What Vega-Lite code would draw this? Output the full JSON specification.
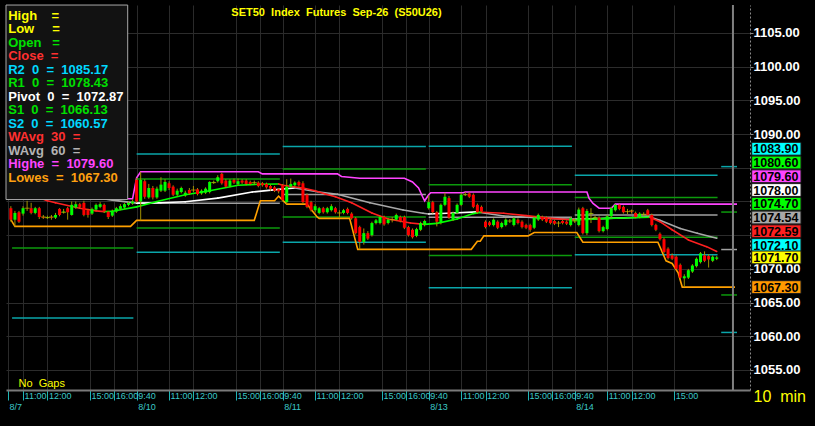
{
"$schema": "https://vega.github.io/schema/vega-lite/v6.json",
"autosize": {"type": "none"},
"padding": {"left": 6, "top": 5, "right": 65, "bottom": 36},
"width": 744,
"height": 385,
"background": "#000000",
"title": {"text": "SET50\u00a0\u00a0Index\u00a0\u00a0Futures\u00a0\u00a0Sep-26\u00a0\u00a0(S50U26)", "color": "#ffff00", "font": "Liberation Sans", "fontSize": 11, "fontWeight": "bold", "anchor": "middle", "frame": "group", "offset": -14, "dx": -41.5},
"config": {"view": {"stroke": null, "fill": "#000000"}, "font": "Liberation Sans"},
"datasets": {
"candles": [
{"g":5,"o":1079.0,"h":1079.3,"l":1077.0,"c":1077.3},
{"g":6,"o":1077.3,"h":1078.6,"l":1076.3,"c":1078.3},
{"g":7,"o":1078.4,"h":1078.6,"l":1076.8,"c":1077.0},
{"g":8,"o":1078.2,"h":1079.3,"l":1077.9,"c":1079.0},
{"g":9,"o":1079.0,"h":1080.1,"l":1078.6,"c":1079.0},
{"g":10,"o":1079.0,"h":1079.8,"l":1078.1,"c":1078.3},
{"g":11,"o":1078.3,"h":1079.2,"l":1078.1,"c":1079.0},
{"g":12,"o":1079.0,"h":1079.2,"l":1077.4,"c":1077.7},
{"g":13,"o":1077.7,"h":1078.0,"l":1077.4,"c":1077.6},
{"g":14,"o":1077.6,"h":1077.9,"l":1077.4,"c":1077.7},
{"g":15,"o":1077.7,"h":1078.0,"l":1077.3,"c":1077.6},
{"g":16,"o":1077.6,"h":1078.3,"l":1077.4,"c":1078.0},
{"g":17,"o":1078.9,"h":1079.0,"l":1077.8,"c":1078.0},
{"g":18,"o":1078.4,"h":1078.9,"l":1078.2,"c":1078.5},
{"g":19,"o":1079.0,"h":1079.2,"l":1077.3,"c":1078.4},
{"g":20,"o":1078.0,"h":1080.0,"l":1077.9,"c":1079.5},
{"g":21,"o":1079.1,"h":1080.0,"l":1078.9,"c":1079.6},
{"g":22,"o":1079.6,"h":1079.8,"l":1079.0,"c":1079.2},
{"g":23,"o":1079.8,"h":1080.1,"l":1077.8,"c":1078.0},
{"g":24,"o":1078.7,"h":1078.9,"l":1077.6,"c":1078.0},
{"g":25,"o":1078.2,"h":1079.1,"l":1078.0,"c":1078.9},
{"g":26,"o":1078.8,"h":1079.7,"l":1078.6,"c":1079.5},
{"g":27,"o":1079.2,"h":1079.9,"l":1079.0,"c":1079.6},
{"g":28,"o":1079.5,"h":1079.7,"l":1078.3,"c":1078.5},
{"g":29,"o":1078.5,"h":1078.6,"l":1077.4,"c":1077.7},
{"g":30,"o":1077.9,"h":1078.8,"l":1077.7,"c":1078.6},
{"g":31,"o":1078.5,"h":1079.2,"l":1078.3,"c":1079.0},
{"g":32,"o":1078.9,"h":1079.6,"l":1078.7,"c":1079.3},
{"g":33,"o":1079.1,"h":1079.8,"l":1078.9,"c":1079.6},
{"g":34,"o":1079.5,"h":1080.0,"l":1079.3,"c":1079.8},
{"g":35,"o":1079.7,"h":1080.3,"l":1079.5,"c":1080.0},
{"g":36,"o":1083.2,"h":1083.5,"l":1079.8,"c":1080.0},
{"g":37,"o":1080.0,"h":1084.4,"l":1077.2,"c":1083.2},
{"g":38,"o":1083.0,"h":1083.3,"l":1080.4,"c":1080.7},
{"g":39,"o":1080.6,"h":1082.6,"l":1080.4,"c":1082.0},
{"g":40,"o":1082.0,"h":1082.3,"l":1080.3,"c":1080.6},
{"g":41,"o":1080.6,"h":1082.2,"l":1080.4,"c":1081.9},
{"g":42,"o":1081.6,"h":1083.6,"l":1081.4,"c":1082.5},
{"g":43,"o":1081.6,"h":1083.3,"l":1081.4,"c":1082.9},
{"g":44,"o":1082.7,"h":1083.0,"l":1081.7,"c":1082.0},
{"g":45,"o":1082.2,"h":1082.4,"l":1080.8,"c":1081.0},
{"g":46,"o":1081.0,"h":1081.9,"l":1080.8,"c":1081.6},
{"g":47,"o":1081.4,"h":1082.2,"l":1081.2,"c":1082.0},
{"g":48,"o":1080.9,"h":1081.6,"l":1080.7,"c":1081.3},
{"g":49,"o":1081.7,"h":1082.0,"l":1081.0,"c":1081.2},
{"g":50,"o":1081.7,"h":1082.3,"l":1081.4,"c":1081.7},
{"g":51,"o":1081.8,"h":1082.0,"l":1080.9,"c":1081.1},
{"g":52,"o":1081.2,"h":1081.8,"l":1081.0,"c":1081.6},
{"g":53,"o":1081.3,"h":1082.1,"l":1081.1,"c":1081.9},
{"g":54,"o":1081.4,"h":1083.0,"l":1081.2,"c":1082.9},
{"g":55,"o":1082.8,"h":1083.1,"l":1082.6,"c":1082.9},
{"g":56,"o":1083.0,"h":1083.9,"l":1082.8,"c":1083.6},
{"g":57,"o":1084.1,"h":1084.3,"l":1082.5,"c":1082.7},
{"g":58,"o":1083.1,"h":1083.3,"l":1082.0,"c":1082.2},
{"g":59,"o":1082.3,"h":1083.3,"l":1082.1,"c":1083.1},
{"g":60,"o":1083.2,"h":1083.4,"l":1082.6,"c":1082.8},
{"g":61,"o":1082.6,"h":1083.4,"l":1082.4,"c":1083.0},
{"g":62,"o":1083.1,"h":1083.3,"l":1082.6,"c":1082.8},
{"g":63,"o":1083.1,"h":1083.3,"l":1082.4,"c":1082.6},
{"g":64,"o":1082.9,"h":1083.1,"l":1082.4,"c":1082.6},
{"g":65,"o":1082.8,"h":1083.1,"l":1082.5,"c":1082.8},
{"g":66,"o":1082.8,"h":1083.0,"l":1082.1,"c":1082.3},
{"g":67,"o":1082.7,"h":1082.9,"l":1082.2,"c":1082.4},
{"g":68,"o":1082.6,"h":1082.8,"l":1081.9,"c":1082.1},
{"g":69,"o":1082.3,"h":1082.5,"l":1081.6,"c":1081.9},
{"g":70,"o":1082.1,"h":1082.3,"l":1081.4,"c":1081.6},
{"g":71,"o":1081.8,"h":1082.0,"l":1081.2,"c":1081.5},
{"g":72,"o":1082.4,"h":1082.6,"l":1080.0,"c":1080.2},
{"g":73,"o":1079.9,"h":1083.3,"l":1079.6,"c":1082.2},
{"g":74,"o":1082.2,"h":1083.4,"l":1082.0,"c":1082.6},
{"g":75,"o":1082.4,"h":1083.0,"l":1082.2,"c":1082.8},
{"g":76,"o":1082.9,"h":1083.1,"l":1082.2,"c":1082.4},
{"g":77,"o":1082.7,"h":1083.0,"l":1079.7,"c":1079.9},
{"g":78,"o":1081.0,"h":1081.2,"l":1079.0,"c":1079.2},
{"g":79,"o":1079.9,"h":1080.1,"l":1078.5,"c":1078.7},
{"g":80,"o":1078.7,"h":1079.6,"l":1078.4,"c":1079.3},
{"g":81,"o":1078.3,"h":1079.2,"l":1078.1,"c":1079.0},
{"g":82,"o":1079.0,"h":1079.2,"l":1078.2,"c":1078.4},
{"g":83,"o":1078.4,"h":1079.2,"l":1078.2,"c":1079.0},
{"g":84,"o":1078.7,"h":1079.6,"l":1078.5,"c":1079.3},
{"g":85,"o":1079.0,"h":1079.2,"l":1078.2,"c":1078.4},
{"g":86,"o":1078.3,"h":1078.7,"l":1077.6,"c":1078.3},
{"g":87,"o":1078.3,"h":1078.9,"l":1078.1,"c":1078.7},
{"g":88,"o":1078.9,"h":1079.1,"l":1078.1,"c":1078.3},
{"g":89,"o":1078.2,"h":1078.4,"l":1077.3,"c":1077.5},
{"g":90,"o":1077.5,"h":1077.7,"l":1075.1,"c":1075.3},
{"g":91,"o":1076.2,"h":1076.4,"l":1072.9,"c":1074.0},
{"g":92,"o":1074.0,"h":1076.0,"l":1073.6,"c":1075.3},
{"g":93,"o":1075.3,"h":1075.6,"l":1074.3,"c":1074.5},
{"g":94,"o":1075.0,"h":1077.0,"l":1074.8,"c":1076.8},
{"g":95,"o":1076.8,"h":1077.4,"l":1076.6,"c":1077.2},
{"g":96,"o":1076.8,"h":1077.9,"l":1076.6,"c":1077.7},
{"g":97,"o":1077.7,"h":1077.9,"l":1076.4,"c":1076.6},
{"g":98,"o":1076.8,"h":1077.5,"l":1076.6,"c":1077.3},
{"g":99,"o":1077.3,"h":1077.7,"l":1076.9,"c":1077.3},
{"g":100,"o":1077.3,"h":1078.2,"l":1077.1,"c":1078.0},
{"g":101,"o":1077.7,"h":1077.9,"l":1076.9,"c":1077.1},
{"g":102,"o":1077.7,"h":1077.9,"l":1075.9,"c":1076.1},
{"g":103,"o":1076.2,"h":1076.4,"l":1074.8,"c":1075.0},
{"g":104,"o":1075.8,"h":1076.0,"l":1074.5,"c":1074.7},
{"g":105,"o":1074.9,"h":1076.1,"l":1074.7,"c":1075.9},
{"g":106,"o":1075.8,"h":1077.0,"l":1075.6,"c":1076.8},
{"g":107,"o":1076.5,"h":1077.3,"l":1076.3,"c":1077.1},
{"g":108,"o":1079.0,"h":1080.9,"l":1078.8,"c":1079.9},
{"g":109,"o":1079.9,"h":1080.1,"l":1078.2,"c":1078.4},
{"g":110,"o":1078.4,"h":1078.6,"l":1076.3,"c":1077.0},
{"g":111,"o":1076.8,"h":1079.7,"l":1076.6,"c":1079.5},
{"g":112,"o":1079.5,"h":1081.3,"l":1079.3,"c":1080.7},
{"g":113,"o":1080.5,"h":1080.8,"l":1077.4,"c":1077.6},
{"g":114,"o":1077.3,"h":1078.5,"l":1077.1,"c":1078.3},
{"g":115,"o":1078.3,"h":1079.7,"l":1078.1,"c":1079.5},
{"g":116,"o":1079.5,"h":1081.3,"l":1079.3,"c":1081.0},
{"g":117,"o":1081.0,"h":1081.4,"l":1080.8,"c":1081.1},
{"g":118,"o":1081.2,"h":1081.4,"l":1080.5,"c":1080.7},
{"g":119,"o":1081.0,"h":1081.2,"l":1079.0,"c":1079.2},
{"g":120,"o":1079.5,"h":1079.7,"l":1078.2,"c":1078.4},
{"g":121,"o":1079.2,"h":1079.4,"l":1078.3,"c":1078.5},
{"g":122,"o":1077.0,"h":1077.2,"l":1076.0,"c":1076.2},
{"g":123,"o":1076.9,"h":1077.1,"l":1076.3,"c":1076.5},
{"g":124,"o":1076.5,"h":1077.5,"l":1076.3,"c":1077.3},
{"g":125,"o":1077.0,"h":1077.2,"l":1075.9,"c":1076.1},
{"g":126,"o":1076.2,"h":1077.0,"l":1076.0,"c":1076.8},
{"g":127,"o":1076.5,"h":1077.5,"l":1076.3,"c":1077.3},
{"g":128,"o":1077.1,"h":1077.4,"l":1076.8,"c":1077.1},
{"g":129,"o":1076.5,"h":1077.7,"l":1076.3,"c":1077.5},
{"g":130,"o":1077.3,"h":1077.5,"l":1076.6,"c":1076.8},
{"g":131,"o":1077.0,"h":1077.2,"l":1076.0,"c":1076.2},
{"g":132,"o":1076.5,"h":1076.7,"l":1075.9,"c":1076.1},
{"g":133,"o":1076.5,"h":1076.7,"l":1075.5,"c":1075.8},
{"g":134,"o":1076.1,"h":1077.8,"l":1075.9,"c":1077.6},
{"g":135,"o":1077.3,"h":1078.2,"l":1077.1,"c":1078.0},
{"g":136,"o":1077.7,"h":1077.9,"l":1077.1,"c":1077.3},
{"g":137,"o":1077.6,"h":1077.8,"l":1076.8,"c":1077.0},
{"g":138,"o":1077.3,"h":1077.5,"l":1076.6,"c":1076.8},
{"g":139,"o":1077.1,"h":1077.3,"l":1076.5,"c":1076.7},
{"g":140,"o":1076.8,"h":1077.1,"l":1076.2,"c":1076.8},
{"g":141,"o":1077.1,"h":1077.3,"l":1076.6,"c":1076.8},
{"g":142,"o":1077.0,"h":1077.2,"l":1076.5,"c":1076.7},
{"g":143,"o":1076.5,"h":1077.7,"l":1076.3,"c":1077.5},
{"g":144,"o":1077.1,"h":1077.5,"l":1076.8,"c":1077.2},
{"g":145,"o":1076.5,"h":1079.1,"l":1076.3,"c":1078.8},
{"g":146,"o":1079.0,"h":1079.2,"l":1075.1,"c":1075.3},
{"g":147,"o":1075.3,"h":1078.9,"l":1075.0,"c":1078.6},
{"g":148,"o":1078.2,"h":1079.0,"l":1076.8,"c":1078.3},
{"g":149,"o":1077.6,"h":1077.9,"l":1077.4,"c":1077.7},
{"g":150,"o":1077.6,"h":1077.8,"l":1075.4,"c":1075.6},
{"g":151,"o":1075.6,"h":1076.4,"l":1075.4,"c":1076.2},
{"g":152,"o":1075.9,"h":1078.0,"l":1075.7,"c":1077.8},
{"g":153,"o":1077.8,"h":1079.2,"l":1077.6,"c":1079.0},
{"g":154,"o":1078.7,"h":1079.6,"l":1078.5,"c":1079.5},
{"g":155,"o":1079.5,"h":1079.6,"l":1078.7,"c":1078.9},
{"g":156,"o":1079.2,"h":1079.4,"l":1078.2,"c":1078.4},
{"g":157,"o":1078.5,"h":1078.9,"l":1078.1,"c":1078.5},
{"g":158,"o":1078.6,"h":1078.8,"l":1078.2,"c":1078.5},
{"g":159,"o":1078.3,"h":1078.5,"l":1077.5,"c":1077.7},
{"g":160,"o":1077.7,"h":1078.4,"l":1077.5,"c":1078.2},
{"g":161,"o":1078.1,"h":1078.4,"l":1077.8,"c":1078.1},
{"g":162,"o":1078.7,"h":1078.9,"l":1077.8,"c":1078.0},
{"g":163,"o":1078.0,"h":1078.2,"l":1076.3,"c":1076.5},
{"g":164,"o":1076.5,"h":1076.7,"l":1075.6,"c":1075.8},
{"g":165,"o":1075.2,"h":1075.4,"l":1074.2,"c":1074.4},
{"g":166,"o":1074.4,"h":1074.6,"l":1072.3,"c":1072.5},
{"g":167,"o":1073.0,"h":1073.2,"l":1071.4,"c":1071.6},
{"g":168,"o":1072.0,"h":1072.3,"l":1071.3,"c":1071.5},
{"g":169,"o":1071.8,"h":1072.0,"l":1069.8,"c":1070.0},
{"g":170,"o":1070.6,"h":1070.8,"l":1068.5,"c":1068.7},
{"g":171,"o":1068.6,"h":1069.2,"l":1067.3,"c":1068.9},
{"g":172,"o":1068.7,"h":1070.0,"l":1068.5,"c":1069.8},
{"g":173,"o":1069.6,"h":1070.7,"l":1069.4,"c":1070.5},
{"g":174,"o":1070.4,"h":1071.7,"l":1070.2,"c":1071.5},
{"g":175,"o":1071.0,"h":1072.5,"l":1070.8,"c":1072.3},
{"g":176,"o":1072.0,"h":1072.6,"l":1071.0,"c":1071.2},
{"g":177,"o":1071.9,"h":1072.2,"l":1070.2,"c":1071.4},
{"g":178,"o":1071.2,"h":1072.0,"l":1071.0,"c":1071.8},
{"g":179,"o":1071.5,"h":1071.9,"l":1071.3,"c":1071.7}
],
"w30": [
{"g":5,"v":1082.0},{"g":10,"v":1081.0},{"g":14,"v":1080.1},{"g":16,"v":1079.8},{"g":22,"v":1079.0},{"g":26,"v":1078.6},{"g":28,"v":1078.5},{"g":30,"v":1078.55},{"g":36,"v":1079.2},{"g":41,"v":1080.0},{"g":48,"v":1081.0},{"g":54,"v":1081.6},{"g":61,"v":1082.4},{"g":66,"v":1082.55},{"g":71,"v":1082.6},{"g":72,"v":1082.4},{"g":77,"v":1082.0},{"g":80,"v":1081.6},{"g":82.5,"v":1081.1},{"g":85,"v":1080.7},{"g":89,"v":1079.8},{"g":94,"v":1078.3},{"g":98,"v":1077.4},{"g":103.5,"v":1076.8},{"g":107,"v":1076.6},{"g":110,"v":1076.75},{"g":115,"v":1077.4},{"g":119,"v":1078.2},{"g":121,"v":1078.4},{"g":126.5,"v":1078.25},{"g":132,"v":1077.9},{"g":138,"v":1077.5},{"g":143,"v":1077.3},{"g":144,"v":1077.25},{"g":152,"v":1077.5},{"g":162.5,"v":1077.65},{"g":165,"v":1077.0},{"g":168,"v":1075.8},{"g":172,"v":1074.3},{"g":176.5,"v":1073.3},{"g":179,"v":1072.59}
],
"w60": [
{"g":5,"v":1082.8},{"g":20,"v":1081.2},{"g":30,"v":1080.2},{"g":36,"v":1079.75},{"g":42,"v":1079.8},{"g":48,"v":1079.95},{"g":56,"v":1080.5},{"g":64.5,"v":1081.4},{"g":71,"v":1081.8},{"g":75,"v":1082.0},{"g":80.5,"v":1081.45},{"g":85.5,"v":1081.07},{"g":93.5,"v":1079.8},{"g":101.7,"v":1078.74},{"g":106.6,"v":1078.25},{"g":108,"v":1078.15},{"g":114,"v":1078.3},{"g":119.9,"v":1078.45},{"g":126.5,"v":1077.85},{"g":138,"v":1077.5},{"g":143,"v":1077.35},{"g":147,"v":1077.4},{"g":152,"v":1077.5},{"g":160,"v":1077.65},{"g":162.5,"v":1077.7},{"g":165,"v":1077.2},{"g":170,"v":1076.0},{"g":174.2,"v":1075.3},{"g":179,"v":1074.54}
],
"highe": [
{"g":5,"v":1080.4},{"g":35,"v":1080.4},{"g":36,"v":1083.5},{"g":37,"v":1084.4},{"g":66,"v":1084.4},{"g":67,"v":1084.1},{"g":85.5,"v":1084.1},{"g":86.5,"v":1083.7},{"g":91,"v":1083.45},{"g":102,"v":1083.45},{"g":104,"v":1082.9},{"g":105.5,"v":1082.0},{"g":106.5,"v":1080.7},{"g":107,"v":1080.1},{"g":108,"v":1081.0},{"g":108.5,"v":1081.3},{"g":116.5,"v":1081.3},{"g":117,"v":1081.4},{"g":147,"v":1081.4},{"g":147.5,"v":1080.5},{"g":148.5,"v":1079.7},{"g":150,"v":1079.0},{"g":153,"v":1079.0},{"g":154,"v":1079.6},{"g":184,"v":1079.6}
],
"lowes": [
{"g":5,"v":1077.3},{"g":6,"v":1076.3},{"g":34.5,"v":1076.3},{"g":36,"v":1077.2},{"g":65,"v":1077.2},{"g":66.5,"v":1080.1},{"g":70,"v":1080.1},{"g":71,"v":1080.8},{"g":73,"v":1079.6},{"g":78,"v":1079.6},{"g":80.5,"v":1077.7},{"g":81,"v":1077.5},{"g":88.5,"v":1077.5},{"g":90.5,"v":1072.9},{"g":118.5,"v":1072.9},{"g":120,"v":1074.1},{"g":120.7,"v":1074.1},{"g":121.6,"v":1074.9},{"g":132.5,"v":1074.9},{"g":134,"v":1075.4},{"g":144.5,"v":1075.4},{"g":146,"v":1073.95},{"g":164.5,"v":1073.95},{"g":166.5,"v":1071.2},{"g":168,"v":1070.8},{"g":169.5,"v":1069.4},{"g":170.5,"v":1067.3},{"g":183.5,"v":1067.3}
],
"pivots": [
{"day":"8/7","lvl":"S1","v":1073.1,"g0":5.3,"g1":35.2},
{"day":"8/7","lvl":"S2","v":1062.7,"g0":5.3,"g1":35.2},
{"day":"8/10","lvl":"R2","v":1087.05,"g0":36,"g1":71.3},
{"day":"8/10","lvl":"R1","v":1083.35,"g0":36,"g1":71.3},
{"day":"8/10","lvl":"P","v":1079.75,"g0":36,"g1":71.3},
{"day":"8/10","lvl":"S1","v":1076.05,"g0":36,"g1":71.3},
{"day":"8/10","lvl":"S2","v":1072.45,"g0":36,"g1":71.3},
{"day":"8/11","lvl":"R2","v":1088.15,"g0":72,"g1":107.3},
{"day":"8/11","lvl":"R1","v":1084.8,"g0":72,"g1":107.3},
{"day":"8/11","lvl":"P","v":1081.05,"g0":72,"g1":107.3},
{"day":"8/11","lvl":"S1","v":1077.7,"g0":72,"g1":107.3},
{"day":"8/11","lvl":"S2","v":1073.95,"g0":72,"g1":107.3},
{"day":"8/13","lvl":"R2","v":1088.2,"g0":108,"g1":143.3},
{"day":"8/13","lvl":"R1","v":1082.5,"g0":108,"g1":143.3},
{"day":"8/13","lvl":"P","v":1077.65,"g0":108,"g1":143.3},
{"day":"8/13","lvl":"S1","v":1072.0,"g0":108,"g1":143.3},
{"day":"8/13","lvl":"S2","v":1067.2,"g0":108,"g1":143.3},
{"day":"8/14","lvl":"R2","v":1083.9,"g0":144,"g1":179.2},
{"day":"8/14","lvl":"R1","v":1080.6,"g0":144,"g1":179.2},
{"day":"8/14","lvl":"P","v":1078.0,"g0":144,"g1":179.2},
{"day":"8/14","lvl":"S1","v":1074.7,"g0":144,"g1":179.2},
{"day":"8/14","lvl":"S2","v":1072.1,"g0":144,"g1":179.2},
{"day":"next","lvl":"R2","v":1085.17,"g0":180.1,"g1":184},
{"day":"next","lvl":"R1","v":1078.43,"g0":180.1,"g1":184},
{"day":"next","lvl":"P","v":1072.87,"g0":180.1,"g1":184},
{"day":"next","lvl":"S1","v":1066.13,"g0":180.1,"g1":184},
{"day":"next","lvl":"S2","v":1060.57,"g0":180.1,"g1":184}
],
"last": [
{"k":"R2","v":1083.90},{"k":"R1","v":1080.60},{"k":"Highe","v":1079.60},{"k":"P","v":1078.00},{"k":"S1","v":1074.70},{"k":"W60","v":1074.54},{"k":"W30","v":1072.59},{"k":"S2","v":1072.10},{"k":"Last","v":1071.70},{"k":"Lowes","v":1067.30}
],
"legend": [
{"row":0,"k":"High","t":"High\u00a0\u00a0\u00a0\u00a0="},
{"row":1,"k":"Low","t":"Low\u00a0\u00a0\u00a0\u00a0\u00a0="},
{"row":2,"k":"Open","t":"Open\u00a0\u00a0\u00a0="},
{"row":3,"k":"Close","t":"Close\u00a0\u00a0="},
{"row":4,"k":"R2","t":"R2\u00a0\u00a00\u00a0\u00a0=\u00a0\u00a01085.17"},
{"row":5,"k":"R1","t":"R1\u00a0\u00a00\u00a0\u00a0=\u00a0\u00a01078.43"},
{"row":6,"k":"Pivot","t":"Pivot\u00a0\u00a00\u00a0\u00a0=\u00a0\u00a01072.87"},
{"row":7,"k":"S1","t":"S1\u00a0\u00a00\u00a0\u00a0=\u00a0\u00a01066.13"},
{"row":8,"k":"S2","t":"S2\u00a0\u00a00\u00a0\u00a0=\u00a0\u00a01060.57"},
{"row":9,"k":"WAvg30","t":"WAvg\u00a0\u00a030\u00a0\u00a0="},
{"row":10,"k":"WAvg60","t":"WAvg\u00a0\u00a060\u00a0\u00a0="},
{"row":11,"k":"Highe","t":"Highe\u00a0\u00a0=\u00a0\u00a01079.60"},
{"row":12,"k":"Lowes","t":"Lowes\u00a0\u00a0=\u00a0\u00a01067.30"}
]
},
"resolve": {"scale": {"y": "independent"}, "axis": {"x": "independent", "y": "independent"}},
"layer": [
{"data": {"name": "pivots"},
 "mark": {"type": "rule", "strokeWidth": 1.5},
 "encoding": {
  "x": {"field": "g0", "type": "quantitative", "scale": {"domain": [3.8, 187.2], "nice": false, "zero": false, "padding": 0},
   "axis": {"orient": "bottom", "values": [4.3, 8, 14, 24.5, 30.5, 36, 44, 50, 60.5, 66.5, 72, 80, 86, 96.5, 102.5, 108, 116, 122, 132.5, 138.5, 144, 152, 158, 168.5],
    "labelExpr": "datum.value < 5 ? ['', '8/7'] : datum.value % 36 == 0 ? ['9:40', datum.value == 36 ? '8/10' : datum.value == 72 ? '8/11' : datum.value == 108 ? '8/13' : '8/14'] : datum.value % 36 == 8 ? '11:00' : datum.value % 36 == 14 ? '12:00' : datum.value % 36 == 24.5 ? '15:00' : '16:00'",
    "grid": true, "gridColor": "#2a2a2a", "gridWidth": 1,
    "domainColor": "#7a7a7a", "domainWidth": 2, "tickColor": "#1fb5b5", "tickSize": 10,
    "labelColor": "#3cc8c8", "labelFont": "Liberation Sans", "labelFontSize": 9, "labelLineHeight": 11, "labelAlign": "left", "labelBaseline": "top", "labelPadding": -9, "labelOffset": 1,
    "labelOverlap": false, "labelFlush": false, "labelBound": false,
    "title": "No\u00a0\u00a0Gaps", "titleX": 12, "titleY": -4, "titleAlign": "left", "titleBaseline": "alphabetic", "titleAngle": 0, "titleColor": "#ffff00", "titleFont": "Liberation Sans", "titleFontSize": 11, "titleFontWeight": "normal"}},
  "x2": {"field": "g1"},
  "y": {"field": "v", "type": "quantitative", "scale": {"domain": [1052.03, 1109.15], "nice": false, "zero": false, "padding": 0},
   "axis": {"orient": "right", "values": [1055, 1060, 1065, 1070, 1075, 1080, 1085, 1090, 1095, 1100, 1105],
    "labelExpr": "datum.value == 1075 || datum.value == 1080 || datum.value == 1085 ? '' : format(datum.value, '.2f')",
    "labelColor": "#ffffff", "labelFont": "Liberation Sans", "labelFontSize": 13, "labelFontWeight": "bold", "labelPadding": 0, "labelBaseline": "middle",
    "labelOverlap": false, "labelFlush": false, "labelBound": false,
    "tickSize": 3, "tickColor": "#8a8a8a", "domainColor": "#8a8a8a", "domainDash": [2, 2],
    "grid": true, "gridColor": "#2c2c2c",
    "title": "10\u00a0\u00a0min", "titleX": 3, "titleY": 396, "titleAlign": "left", "titleBaseline": "alphabetic", "titleAngle": 0, "titleColor": "#ffff00", "titleFont": "Liberation Sans", "titleFontSize": 16, "titleFontWeight": "normal"}},
  "stroke": {"field": "lvl", "type": "nominal", "scale": {"domain": ["R2", "R1", "P", "S1", "S2"], "range": ["#0aa6aa", "#0c9a0c", "#a0a0a0", "#0c9a0c", "#0aa6aa"]}, "legend": null}
 }},
{"data": {"name": "lowes"},
 "mark": {"type": "line", "color": "#ffa000", "strokeWidth": 1.6},
 "encoding": {
  "x": {"field": "g", "type": "quantitative", "scale": {"domain": [3.8, 187.2], "nice": false, "zero": false, "padding": 0}, "axis": null},
  "y": {"field": "v", "type": "quantitative", "scale": {"domain": [1052.03, 1109.15], "nice": false, "zero": false, "padding": 0}, "axis": null}
 }},
{"data": {"name": "highe"},
 "mark": {"type": "line", "color": "#ff44ff", "strokeWidth": 1.6},
 "encoding": {
  "x": {"field": "g", "type": "quantitative", "scale": {"domain": [3.8, 187.2], "nice": false, "zero": false, "padding": 0}, "axis": null},
  "y": {"field": "v", "type": "quantitative", "scale": {"domain": [1052.03, 1109.15], "nice": false, "zero": false, "padding": 0}, "axis": null}
 }},
{"data": {"name": "w60"},
 "transform": [{"window": [{"op": "lead", "field": "g", "as": "g2"}, {"op": "lead", "field": "v", "as": "v2"}], "sort": [{"field": "g", "order": "ascending"}]}, {"filter": "datum.g2 != null"}],
 "mark": {"type": "rule", "strokeWidth": 1.6, "strokeCap": "round"},
 "encoding": {
  "x": {"field": "g", "type": "quantitative", "scale": {"domain": [3.8, 187.2], "nice": false, "zero": false, "padding": 0}, "axis": null},
  "x2": {"field": "g2"},
  "y": {"field": "v", "type": "quantitative", "scale": {"domain": [1052.03, 1109.15], "nice": false, "zero": false, "padding": 0}, "axis": null},
  "y2": {"field": "v2"},
  "color": {"condition": {"test": "datum.v2 >= datum.v", "value": "#ffffff"}, "value": "#a8a8a8"}
 }},
{"data": {"name": "w30"},
 "transform": [{"window": [{"op": "lead", "field": "g", "as": "g2"}, {"op": "lead", "field": "v", "as": "v2"}], "sort": [{"field": "g", "order": "ascending"}]}, {"filter": "datum.g2 != null"}],
 "mark": {"type": "rule", "strokeWidth": 1.6, "strokeCap": "round"},
 "encoding": {
  "x": {"field": "g", "type": "quantitative", "scale": {"domain": [3.8, 187.2], "nice": false, "zero": false, "padding": 0}, "axis": null},
  "x2": {"field": "g2"},
  "y": {"field": "v", "type": "quantitative", "scale": {"domain": [1052.03, 1109.15], "nice": false, "zero": false, "padding": 0}, "axis": null},
  "y2": {"field": "v2"},
  "color": {"condition": {"test": "datum.v2 >= datum.v", "value": "#00ff00"}, "value": "#ff2020"}
 }},
{"data": {"name": "candles"},
 "mark": {"type": "rule", "color": "#a09000", "strokeWidth": 1},
 "encoding": {
  "x": {"field": "g", "type": "quantitative", "scale": {"domain": [3.8, 187.2], "nice": false, "zero": false, "padding": 0}, "axis": null},
  "y": {"field": "l", "type": "quantitative", "scale": {"domain": [1052.03, 1109.15], "nice": false, "zero": false, "padding": 0}, "axis": null},
  "y2": {"field": "h"}
 }},
{"data": {"name": "candles"},
 "mark": {"type": "bar", "size": 3},
 "encoding": {
  "x": {"field": "g", "type": "quantitative", "scale": {"domain": [3.8, 187.2], "nice": false, "zero": false, "padding": 0}, "axis": null},
  "y": {"field": "o", "type": "quantitative", "scale": {"domain": [1052.03, 1109.15], "nice": false, "zero": false, "padding": 0}, "axis": null},
  "y2": {"field": "c"},
  "color": {"condition": {"test": "datum.c >= datum.o", "value": "#00ff00"}, "value": "#ff0000"}
 }},
{"data": {"name": "candles"},
 "transform": [{"filter": "abs(datum.c - datum.o) < 0.15"}],
 "mark": {"type": "tick", "orient": "horizontal", "size": 5, "thickness": 1, "color": "#c8b400"},
 "encoding": {
  "x": {"field": "g", "type": "quantitative", "scale": {"domain": [3.8, 187.2], "nice": false, "zero": false, "padding": 0}, "axis": null},
  "y": {"field": "o", "type": "quantitative", "scale": {"domain": [1052.03, 1109.15], "nice": false, "zero": false, "padding": 0}, "axis": null}
 }},
{"data": {"values": [{}]},
 "mark": {"type": "rule", "color": "#808080", "strokeWidth": 2},
 "encoding": {
  "x": {"datum": 183.0, "type": "quantitative", "scale": {"domain": [3.8, 187.2], "nice": false, "zero": false, "padding": 0}, "axis": null}
 }},
{"data": {"name": "last"},
 "transform": [{"window": [{"op": "row_number", "as": "rn"}], "sort": [{"field": "v", "order": "ascending"}]},
  {"calculate": "datum.rn == 1 ? datum.v : max(datum.v, 1071.5 + (datum.rn - 2) * 2.04)", "as": "at"},
  {"calculate": "datum.at - 0.95", "as": "y0"}, {"calculate": "datum.at + 0.95", "as": "y1"}],
 "mark": {"type": "rect", "stroke": "#1a1a1a", "strokeWidth": 1},
 "encoding": {
  "x": {"datum": 187.62, "type": "quantitative", "scale": {"domain": [3.8, 187.2], "nice": false, "zero": false, "padding": 0}, "axis": null},
  "x2": {"datum": 199.77},
  "y": {"field": "y0", "type": "quantitative", "scale": {"domain": [1052.03, 1109.15], "nice": false, "zero": false, "padding": 0}, "axis": null},
  "y2": {"field": "y1"},
  "fill": {"field": "k", "type": "nominal", "scale": {"domain": ["R2", "R1", "Highe", "P", "S1", "W60", "W30", "S2", "Last", "Lowes"], "range": ["#00ffff", "#00ff00", "#ff44ff", "#ffffff", "#00ff00", "#a8a8a8", "#ff2020", "#00ffff", "#ffff00", "#ff9900"]}, "legend": null}
 }},
{"data": {"name": "last"},
 "transform": [{"window": [{"op": "row_number", "as": "rn"}], "sort": [{"field": "v", "order": "ascending"}]},
  {"calculate": "datum.rn == 1 ? datum.v : max(datum.v, 1071.5 + (datum.rn - 2) * 2.04)", "as": "at"}],
 "mark": {"type": "text", "align": "left", "baseline": "middle", "font": "Liberation Sans", "fontSize": 12.5, "fontWeight": "bold", "color": "#000000", "dy": 0.5},
 "encoding": {
  "x": {"datum": 188.0, "type": "quantitative", "scale": {"domain": [3.8, 187.2], "nice": false, "zero": false, "padding": 0}, "axis": null},
  "y": {"field": "at", "type": "quantitative", "scale": {"domain": [1052.03, 1109.15], "nice": false, "zero": false, "padding": 0}, "axis": null},
  "text": {"field": "v", "type": "quantitative", "format": ".2f"}
 }},
{"data": {"values": [{}]},
 "mark": {"type": "rect", "fill": "#121212", "stroke": "#a8a8a8", "strokeWidth": 1},
 "encoding": {
  "x": {"datum": 3.8, "type": "quantitative", "scale": {"domain": [3.8, 187.2], "nice": false, "zero": false, "padding": 0}, "axis": null},
  "x2": {"datum": 33.8},
  "y": {"datum": -0.79, "type": "quantitative", "scale": {"domain": [-0.793, 27.73], "nice": false, "zero": false, "reverse": true, "padding": 0}, "axis": null},
  "y2": {"datum": 13.62}
 }},
{"data": {"name": "legend"},
 "mark": {"type": "text", "align": "left", "baseline": "middle", "font": "Liberation Sans", "fontSize": 13, "fontWeight": "bold"},
 "encoding": {
  "x": {"datum": 4.35, "type": "quantitative", "scale": {"domain": [3.8, 187.2], "nice": false, "zero": false, "padding": 0}, "axis": null},
  "y": {"field": "row", "type": "quantitative", "scale": {"domain": [-0.793, 27.73], "nice": false, "zero": false, "reverse": true, "padding": 0}, "axis": null},
  "text": {"field": "t", "type": "nominal"},
  "color": {"field": "k", "type": "nominal", "legend": null,
   "scale": {"domain": ["High", "Low", "Open", "Close", "R2", "R1", "Pivot", "S1", "S2", "WAvg30", "WAvg60", "Highe", "Lowes"],
    "range": ["#ffff00", "#ffff00", "#00e000", "#ff3030", "#00d8ff", "#00e000", "#ffffff", "#00e000", "#00d8ff", "#ff3030", "#b4b4b4", "#ff44ff", "#ffa010"]}}
 }}
]
}
